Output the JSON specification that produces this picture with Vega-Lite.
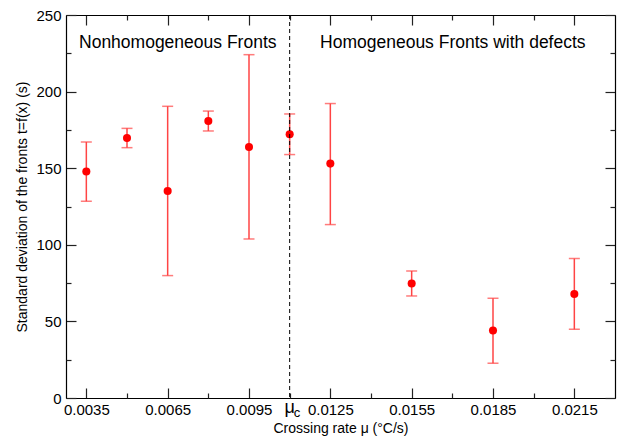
{
  "$schema": "https://vega.github.io/schema/vega-lite/v6.json",
  "width": 549,
  "height": 383,
  "autosize": "none",
  "padding": {"left": 66, "top": 15, "right": 8, "bottom": 41},
  "background": "white",
  "config": {
    "view": {"stroke": null},
    "font": "Liberation Sans",
    "axis": {"grid": false, "domainColor": "black", "tickColor": "#222", "labelColor": "black", "titleColor": "black", "labelFont": "Liberation Sans", "titleFont": "Liberation Sans", "titleFontWeight": "normal", "domainWidth": 1.2, "tickWidth": 1.2}
  },
  "datasets": {
    "pts": [
      {"x": 0.0035, "y": 147.8, "lo": 128.4, "hi": 167.1},
      {"x": 0.0050, "y": 169.7, "lo": 163.4, "hi": 176.0},
      {"x": 0.0065, "y": 135.1, "lo": 79.9, "hi": 190.4},
      {"x": 0.0080, "y": 180.8, "lo": 174.3, "hi": 187.3},
      {"x": 0.0095, "y": 163.8, "lo": 103.8, "hi": 224.1},
      {"x": 0.0110, "y": 172.1, "lo": 158.9, "hi": 185.4},
      {"x": 0.0125, "y": 153.0, "lo": 113.2, "hi": 192.2},
      {"x": 0.0155, "y": 74.7, "lo": 66.6, "hi": 82.9},
      {"x": 0.0185, "y": 44.0, "lo": 22.7, "hi": 65.1},
      {"x": 0.0215, "y": 67.9, "lo": 44.8, "hi": 91.0}
    ]
  },
  "resolve": {"axis": {"x": "independent", "y": "independent"}},
  "layer": [
    {
      "data": {"name": "pts"},
      "mark": {"type": "rule", "color": "#ff4444", "strokeWidth": 1.5},
      "encoding": {
        "x": {"field": "x", "type": "quantitative", "scale": {"domain": [0.00275, 0.023], "nice": false, "zero": false},
          "axis": {"orient": "bottom", "values": [0.0035, 0.0065, 0.0095, 0.0125, 0.0155, 0.0185, 0.0215], "format": ".4f", "tickSize": -10, "labelPadding": 14, "labelFontSize": 15, "title": "Crossing rate μ (°C/s)", "titleFontSize": 14, "titlePadding": 4, "labelFlush": false, "labelOverlap": false}},
        "y": {"field": "lo", "type": "quantitative", "scale": {"domain": [0, 250], "nice": false},
          "axis": {"orient": "left", "values": [0, 50, 100, 150, 200, 250], "tickSize": -10, "labelPadding": 15, "labelFontSize": 15, "title": "Standard deviation of the fronts t=f(x) (s)", "titleFontSize": 14, "titlePadding": 6, "labelFlush": false}},
        "y2": {"field": "hi"}
      }
    },
    {
      "data": {"name": "pts"},
      "mark": {"type": "tick", "orient": "horizontal", "color": "#ff4444", "size": 11, "thickness": 1.5},
      "encoding": {
        "x": {"field": "x", "type": "quantitative",
          "axis": {"orient": "bottom", "values": [0.005, 0.008, 0.011, 0.014, 0.017, 0.02], "tickSize": -5, "labels": false, "domain": false, "title": null}},
        "y": {"field": "hi", "type": "quantitative",
          "axis": {"orient": "left", "values": [25, 75, 125, 175, 225], "tickSize": -5, "labels": false, "domain": false, "title": null}}
      }
    },
    {
      "data": {"name": "pts"},
      "mark": {"type": "tick", "orient": "horizontal", "color": "#ff4444", "size": 11, "thickness": 1.5},
      "encoding": {
        "x": {"field": "x", "type": "quantitative",
          "axis": {"orient": "top", "values": [0.0035, 0.0065, 0.0095, 0.0125, 0.0155, 0.0185, 0.0215], "tickSize": -10, "labels": false, "title": null}},
        "y": {"field": "lo", "type": "quantitative",
          "axis": {"orient": "right", "values": [0, 50, 100, 150, 200, 250], "tickSize": -10, "labels": false, "title": null}}
      }
    },
    {
      "data": {"name": "pts"},
      "mark": {"type": "circle", "color": "#ff0000", "opacity": 1, "size": 65},
      "encoding": {
        "x": {"field": "x", "type": "quantitative",
          "axis": {"orient": "top", "values": [0.005, 0.008, 0.011, 0.014, 0.017, 0.02], "tickSize": -5, "labels": false, "domain": false, "title": null}},
        "y": {"field": "y", "type": "quantitative",
          "axis": {"orient": "right", "values": [25, 75, 125, 175, 225], "tickSize": -5, "labels": false, "domain": false, "title": null}}
      }
    },
    {
      "data": {"values": [{"xc": 0.011, "lab": "μ", "sub": "c", "y0": 0}]},
      "layer": [
        {
          "mark": {"type": "rule", "color": "black", "strokeDash": [4, 3], "strokeWidth": 1},
          "encoding": {"x": {"field": "xc", "type": "quantitative", "axis": null}}
        },
        {
          "mark": {"type": "text", "fontSize": 18, "align": "center", "baseline": "alphabetic", "dy": 15, "color": "black"},
          "encoding": {"x": {"field": "xc", "type": "quantitative", "axis": null}, "y": {"field": "y0", "type": "quantitative", "axis": null}, "text": {"field": "lab"}}
        },
        {
          "mark": {"type": "text", "fontSize": 13, "align": "left", "baseline": "alphabetic", "dx": 4, "dy": 19, "color": "black"},
          "encoding": {"x": {"field": "xc", "type": "quantitative", "axis": null}, "y": {"field": "y0", "type": "quantitative", "axis": null}, "text": {"field": "sub"}}
        }
      ]
    },
    {
      "data": {"values": [
        {"tx": 0.00323, "ty": 232, "t": "Nonhomogeneous Fronts"},
        {"tx": 0.01212, "ty": 232, "t": "Homogeneous Fronts with defects"}
      ]},
      "mark": {"type": "text", "fontSize": 17.5, "align": "left", "baseline": "middle", "color": "black"},
      "encoding": {
        "x": {"field": "tx", "type": "quantitative", "axis": null},
        "y": {"field": "ty", "type": "quantitative", "axis": null},
        "text": {"field": "t"}
      }
    }
  ]
}
